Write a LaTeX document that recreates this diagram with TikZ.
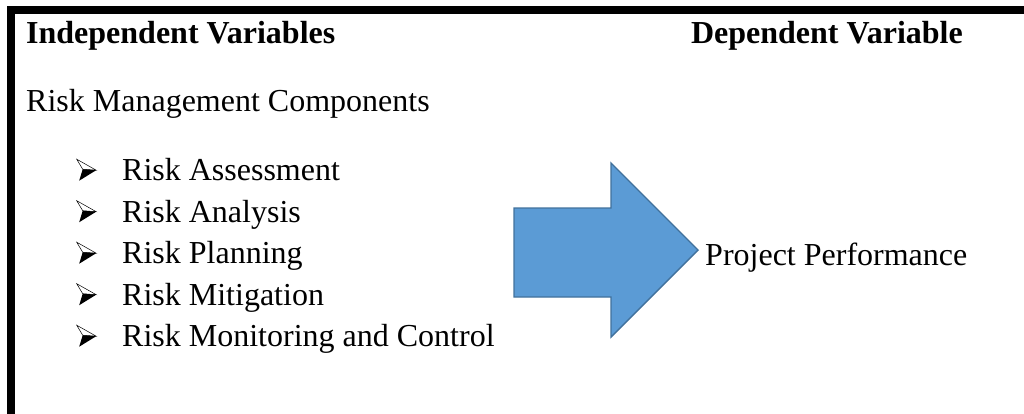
\documentclass[tikz,border=0pt]{standalone}
\usepackage{fontspec}
\setmainfont{Liberation Serif}
\definecolor{arrowblue}{HTML}{5B9BD5}
\definecolor{arrowedge}{HTML}{41719C}
\begin{document}
\begin{tikzpicture}[x=1pt,y=-1pt,
  txt/.style={inner sep=0pt, anchor=base west, font=\fontsize{32}{38}\selectfont},
  head/.style={inner sep=0pt, font=\fontsize{32}{38}\selectfont\bfseries},
  bigarrow/.style={fill=arrowblue, draw=arrowedge, line width=1.4pt, line join=miter},
  frame/.style={draw=black, line width=8pt},
  arrowbullet/.pic={
    % upper facet: outlined, lower facet: solid black
    \draw[line width=0.5pt, fill=white, line join=miter] (0,-21.5) -- (19.5,-10.5) -- (6,-11.5) -- cycle;
    \fill[black] (6,-11.5) -- (19.5,-10.5) -- (2.5,0) -- cycle;
  }]
\useasboundingbox (0,0) rectangle (1024,413);
\clip (0,0) rectangle (1024,413);

% outer frame
\draw[frame] (11,10) rectangle (1040,418);

% headings
\node[head, anchor=base west] (iv) at (26,43) {Independent Variables};
\node[head, anchor=base east] (dv) at (963,43) {Dependent Variable};

% independent side
\node[txt] (rmc) at (26,111) {Risk Management Components};
\foreach \lbl [count=\i from 0] in {Risk Assessment, Risk Analysis, Risk Planning, Risk Mitigation, Risk Monitoring and Control} {
  \pgfmathsetmacro{\yb}{180.7+41.5*\i}
  \pic at (76.7,\yb) {arrowbullet};
  \node[txt] (item\i) at (122,\yb) {\lbl};
}

% block arrow
\draw[bigarrow] (514,208) -- (611,208) -- (611,163) -- (698,250) -- (611,337) -- (611,297) -- (514,297) -- cycle;
\coordinate (tip) at (698,250);

% dependent side
\node[txt] (pp) at (705,265) {Project Performance};
\end{tikzpicture}
\end{document}
